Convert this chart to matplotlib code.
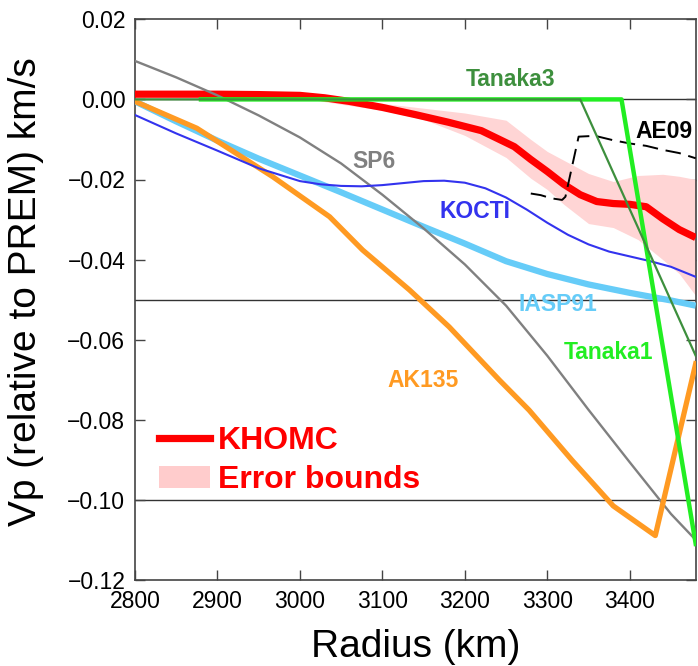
import matplotlib
matplotlib.use("Agg")
import matplotlib.pyplot as plt
from matplotlib.lines import Line2D
from matplotlib.patches import Patch

plt.rcParams['font.family'] = ['Liberation Sans', 'DejaVu Sans']

# ---------------- data ----------------
sp6_r = [2800, 2850, 2900, 2950, 3000, 3050, 3100, 3150, 3200, 3250, 3300, 3350, 3400, 3450, 3480]
sp6_v = [0.0096, 0.0055, 0.0010, -0.0040, -0.0095, -0.0160, -0.0238, -0.0322, -0.0412, -0.0515, -0.0640, -0.0775, -0.0906, -0.1035, -0.1100]

iasp_r = [2800, 2850, 2900, 2950, 3000, 3050, 3100, 3150, 3200, 3250, 3300, 3350, 3400, 3450, 3480]
iasp_v = [-0.0005, -0.0055, -0.0103, -0.0148, -0.0190, -0.0232, -0.0275, -0.0318, -0.0360, -0.0404, -0.0436, -0.0462, -0.0483, -0.0502, -0.0515]

ak_r = [2800, 2875, 2967, 3036, 3076, 3133, 3181, 3242, 3278, 3330, 3380, 3431, 3480]
ak_v = [-0.0005, -0.0072, -0.0193, -0.0293, -0.0376, -0.0476, -0.0568, -0.0701, -0.0776, -0.0901, -0.1015, -0.1089, -0.0660]

kocti_r = [2800, 2850, 2900, 2950, 3000, 3025, 3050, 3075, 3100, 3125, 3150, 3175, 3200, 3225, 3250,
           3275, 3300, 3325, 3350, 3375, 3400, 3425, 3450, 3480]
kocti_v = [-0.0039, -0.0085, -0.0128, -0.0172, -0.0204, -0.0212, -0.0216, -0.0217, -0.0214, -0.0209,
           -0.0204, -0.0203, -0.0208, -0.0222, -0.0245, -0.0275, -0.0308, -0.0338, -0.0362, -0.0380,
           -0.0392, -0.0404, -0.0418, -0.0443]

khomc_r = [2800, 2850, 2900, 2950, 3000, 3030, 3060, 3100, 3140, 3180, 3220, 3260, 3280, 3300, 3320, 3340, 3360, 3380, 3400, 3420, 3440, 3460, 3480]
khomc_v = [0.0013, 0.0013, 0.0013, 0.0012, 0.0010, 0.0004, -0.0005, -0.0020, -0.0038, -0.0057, -0.0078, -0.0118, -0.0150, -0.0180, -0.0212, -0.0238, -0.0255, -0.0260, -0.0262, -0.0268, -0.0298, -0.0325, -0.0345]

band_r = [2800, 2900, 3000, 3050, 3100, 3150, 3200, 3250, 3280, 3300, 3320, 3350, 3380, 3410, 3440, 3460, 3480]
band_hi = [0.0018, 0.0018, 0.0016, 0.0004, -0.0010, -0.0022, -0.0034, -0.0052, -0.0100, -0.0130, -0.0152, -0.0185, -0.0205, -0.0190, -0.0187, -0.0192, -0.0200]
band_lo = [0.0008, 0.0008, 0.0004, -0.0012, -0.0027, -0.0050, -0.0090, -0.0145, -0.0197, -0.0225, -0.0262, -0.0310, -0.0320, -0.0350, -0.0400, -0.0435, -0.0490]

ae09_r = [3280, 3292, 3305, 3318, 3322, 3338, 3358, 3380, 3400, 3420, 3440, 3460, 3480]
ae09_v = [-0.0235, -0.0239, -0.0247, -0.0251, -0.0243, -0.0093, -0.0091, -0.0102, -0.0110, -0.0116, -0.0126, -0.0134, -0.0147]

tanaka1_r = [2880, 3390, 3480]
tanaka1_v = [0.0, 0.0, -0.111]

tanaka3_r = [2800, 3340, 3480]
tanaka3_v = [0.0, 0.0, -0.064]

ref_lines = [0.0, -0.05, -0.10]

xticks = [2800, 2900, 3000, 3100, 3200, 3300, 3400]
yticks = [0.02, 0.00, -0.02, -0.04, -0.06, -0.08, -0.10, -0.12]

# labels: (text, r, v, color)
labels = [
    ("Tanaka3", 3256, 0.0049, '#3d8f3d'),
    ("SP6", 3090, -0.0154, '#808080'),
    ("AE09", 3441, -0.0080, 'black'),
    ("KOCTI", 3212, -0.0281, '#3333ee'),
    ("IASP91", 3313, -0.0512, '#66ccf8'),
    ("Tanaka1", 3374, -0.0631, '#22ee22'),
    ("AK135", 3149, -0.0701, '#ff9a22'),
]

# ---------------- figure ----------------
fig = plt.figure(figsize=(6.98, 6.66), dpi=100)
ax = fig.add_axes([135 / 698, 1 - 580 / 666, 560.7 / 698, 560.7 / 666])

for y in ref_lines:
    ax.axhline(y, color='#333333', lw=1.0, zorder=1)

ax.fill_between(band_r, band_lo, band_hi, color='#ffd5d5', lw=0, zorder=2)
ax.plot(iasp_r, iasp_v, color='#66ccf8', lw=4.5, solid_capstyle='butt', zorder=3)
ax.plot(khomc_r, khomc_v, color='#ff0000', lw=5.2, solid_capstyle='butt', zorder=4)
ax.plot(sp6_r, sp6_v, color='#808080', lw=1.7, zorder=5)
ax.plot(ak_r, ak_v, color='#ff9a22', lw=3.8, zorder=6)
ax.plot(kocti_r, kocti_v, color='#3333ee', lw=1.5, zorder=7)
ax.plot(ae09_r, ae09_v, color='black', lw=1.4, ls=(0, (8, 4)), zorder=8)
ax.plot(tanaka1_r, tanaka1_v, color='#22ee22', lw=3.2, zorder=9)
ax.plot(tanaka3_r, tanaka3_v, color='#3d8f3d', lw=1.6, zorder=10)

for txt, r, v, c in labels:
    ax.text(r, v, txt, color=c, fontsize=16.5, fontweight='bold', ha='center', va='center', zorder=11)

ax.set_xlim(2800, 3480)
ax.set_ylim(-0.12, 0.02)
ax.set_xticks(xticks)
ax.set_yticks(yticks)
ax.set_yticklabels([f"{t:.2f}".replace('-', '\u2212') if abs(t) > 1e-9 else "0.00" for t in yticks])
ax.tick_params(direction='in', length=7, width=1.0, color='#444444', labelsize=16.5,
               top=True, right=True, pad=7)
for s in ax.spines.values():
    s.set_color('#444444')
    s.set_linewidth(1.2)

ax.set_xlabel("Radius (km)", fontsize=28, labelpad=12)
ax.set_ylabel("Vp (relative to PREM) km/s", fontsize=28)
ax.yaxis.set_label_coords(-0.162, 0.514)

handles = [Line2D([], [], color='#ff0000', lw=5.2),
           Patch(facecolor='#ffcccc', edgecolor='none')]
leg = ax.legend(handles, ["KHOMC", "Error bounds"], loc='center left',
                bbox_to_anchor=(0.043, 0.213), frameon=False,
                prop={'size': 23, 'weight': 'bold'}, labelcolor='#ff0000',
                handlelength=1.6, handletextpad=0.25, labelspacing=0.3,
                borderpad=0, borderaxespad=0)

fig.savefig("out.png", dpi=100)
